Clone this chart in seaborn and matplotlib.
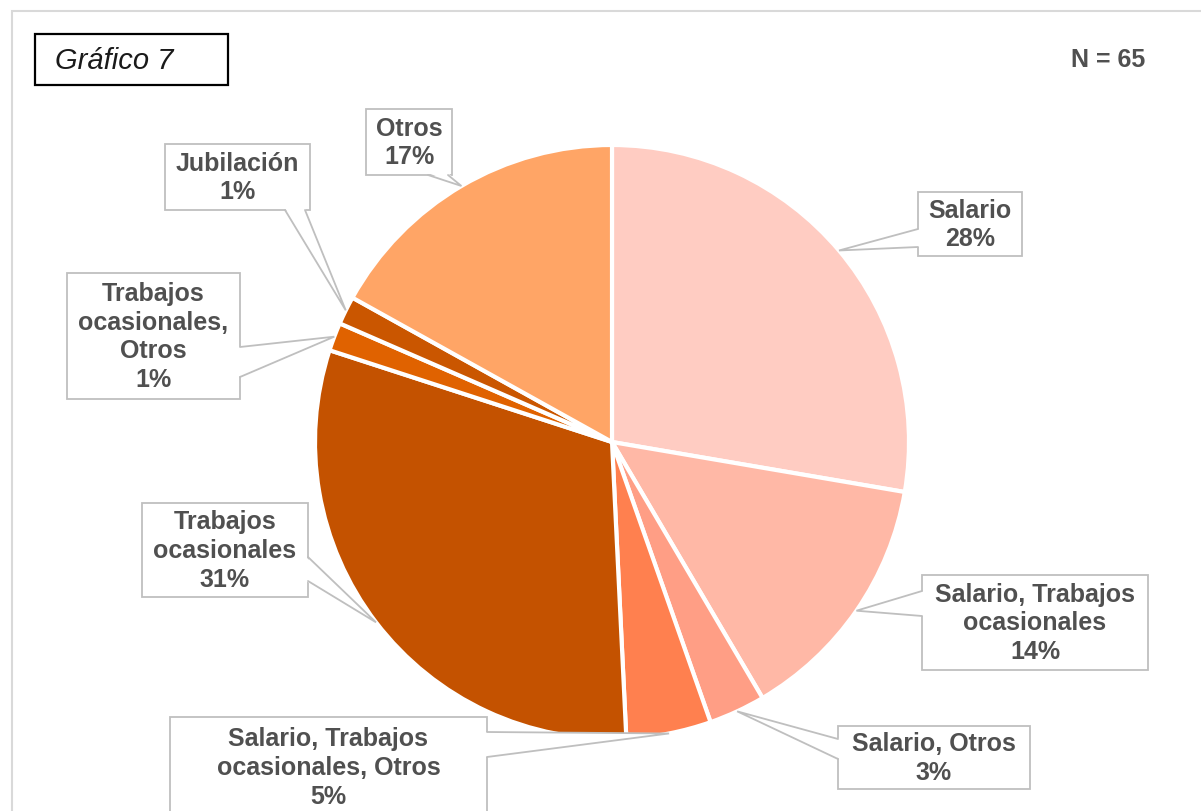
import matplotlib
matplotlib.use('Agg')
import matplotlib.pyplot as plt
import seaborn as sns
import numpy as np
from matplotlib.patches import Rectangle, Polygon

# Datos del gráfico (N = 65)
categorias = ['Salario', 'Salario, Trabajos\nocasionales', 'Salario, Otros',
              'Salario, Trabajos\nocasionales, Otros', 'Trabajos\nocasionales',
              'Trabajos\nocasionales,\nOtros', 'Jubilación', 'Otros']
casos = [18, 9, 2, 3, 20, 1, 1, 11]
porcentajes = ['28%', '14%', '3%', '5%', '31%', '1%', '1%', '17%']
colores = ['#FFCCC2', '#FFB8A6', '#FF9E85', '#FF804F',
           '#C45200', '#E06200', '#CA5600', '#FFA566']

sns.set_theme(style='white')
plt.rcParams['font.family'] = ['Liberation Sans', 'DejaVu Sans']

W, H = 1201, 812
gris = '#BFBFBF'
texto_color = '#505050'


def Y(y):
    # coordenadas de pixel (origen arriba) a coordenadas de datos
    return H - y


fig = plt.figure(figsize=(W / 100, H / 100), dpi=100)
ax = fig.add_axes([0, 0, 1, 1])

centro = (612, Y(443))
radio = 297
cuñas, _ = ax.pie(casos, colors=sns.color_palette(colores), startangle=90,
                  counterclock=False, center=centro, radius=radio,
                  wedgeprops=dict(edgecolor='white', linewidth=3))
for c in cuñas:
    c.set_zorder(2)

# posicion de cada etiqueta: caja (x0, y0, x1, y1), lado del puntero, rango base
cajas = [
    ((918, 193, 1022, 257), 'izq', (230, 248)),
    ((922, 576, 1148, 671), 'izq', (592, 617)),
    ((838, 727, 1030, 790), 'izq', (740, 760)),
    ((170, 718, 487, 840), 'der', (733, 758)),
    ((142, 504, 308, 598), 'der', (558, 582)),
    ((67, 274, 240, 400), 'der', (348, 378)),
    ((165, 145, 310, 211), 'abajo', (285, 305)),
    ((366, 110, 452, 176), 'abajo', (428, 448)),
]


def globo(caja, lado, base, punta, texto):
    x0, y0, x1, y1 = caja
    ax.add_patch(Rectangle((x0, Y(y1)), x1 - x0, y1 - y0, fc='white',
                           ec=gris, lw=1.3, zorder=3))
    if lado == 'izq':
        p1, p2 = (x0, Y(base[0])), (x0, Y(base[1]))
        q1, q2 = (x0 + 2, Y(base[0])), (x0 + 2, Y(base[1]))
    elif lado == 'der':
        p1, p2 = (x1, Y(base[0])), (x1, Y(base[1]))
        q1, q2 = (x1 - 2, Y(base[0])), (x1 - 2, Y(base[1]))
    else:
        p1, p2 = (base[0], Y(y1)), (base[1], Y(y1))
        q1, q2 = (base[0], Y(y1) + 2), (base[1], Y(y1) + 2)
    ax.add_patch(Polygon([q1, punta, q2], closed=True, fc='white', ec='none', zorder=4))
    ax.plot([p1[0], punta[0], p2[0]], [p1[1], punta[1], p2[1]],
            color=gris, lw=1.3, zorder=5, solid_joinstyle='miter')
    yc = (y0 + y1) / 2 if y1 <= H else y0 + 50
    ax.text((x0 + x1) / 2, Y(yc), texto, ha='center', va='center',
            fontsize=18, fontweight='bold', color=texto_color,
            linespacing=1.24, zorder=6)


for cuña, cat, pct, (caja, lado, base) in zip(cuñas, categorias, porcentajes, cajas):
    ang = np.deg2rad((cuña.theta1 + cuña.theta2) / 2)
    punta = (centro[0] + radio * np.cos(ang), centro[1] + radio * np.sin(ang))
    globo(caja, lado, base, punta, cat + '\n' + pct)

# marco exterior
ax.add_patch(Rectangle((12, Y(840)), 1210, 828, fc='none', ec='#D9D9D9', lw=1.5, zorder=1))

# titulo
ax.add_patch(Rectangle((35, Y(86)), 193, 51, fc='white', ec='black', lw=1.6, zorder=3))
ax.text(55, Y(61), 'Gráfico 7', ha='left', va='center', fontsize=21,
        fontstyle='italic', color='#1A1A1A', zorder=6)
ax.text(1145, Y(60), 'N = 65', ha='right', va='center', fontsize=18,
        fontweight='bold', color=texto_color, zorder=6)

ax.set_xlim(0, W)
ax.set_ylim(0, H)
ax.set_aspect('equal')
ax.axis('off')

fig.savefig('out.png', dpi=100)
